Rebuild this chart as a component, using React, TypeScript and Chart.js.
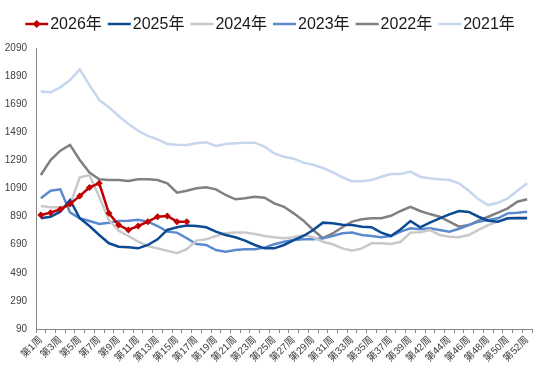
import React, { useEffect, useRef } from "react";
import { Chart, registerables } from "chart.js";

Chart.register(...registerables);

const weekNumbers = [
  1, 2, 3, 4, 5, 6, 7, 8, 9, 10, 11, 12, 13, 14, 15, 16, 17, 18, 19, 20,
  21, 22, 23, 24, 25, 26, 27, 28, 29, 30, 31, 32, 33, 34, 35, 36, 37, 38, 39, 40,
  42, 43, 44, 45, 46, 47, 48, 49, 50, 51, 52,
];
const categories = weekNumbers.map((w) => `第${w}周`);

const yTicksMin = 90;
const yTicksMax = 2090;
const yTickStep = 200;

const series2026 = [901, 918, 942, 980, 1037, 1098, 1127, 913, 830, 795, 823, 854, 889, 894, 854, 854];
const series2025 = [878, 889, 925, 1008, 878, 823, 759, 700, 676, 671, 664, 688, 728, 795, 814, 827, 823, 814, 783, 759, 743, 719, 688, 664, 664, 688, 723, 752, 795, 847, 842, 832, 830, 818, 814, 776, 752, 800, 859, 814, 847, 878, 906, 930, 923, 889, 861, 854, 878, 878, 878];
const series2024 = [965, 956, 956, 972, 1170, 1184, 1031, 866, 790, 752, 711, 681, 664, 647, 629, 658, 719, 728, 752, 771, 776, 776, 766, 752, 743, 736, 743, 759, 743, 711, 693, 664, 647, 664, 700, 700, 695, 711, 776, 778, 795, 759, 747, 743, 759, 795, 830, 854, 878, 885, 885];
const series2023 = [1020, 1074, 1084, 920, 878, 859, 837, 847, 859, 861, 868, 854, 823, 783, 776, 736, 695, 688, 652, 640, 652, 657, 657, 669, 693, 711, 723, 728, 728, 736, 752, 771, 776, 759, 752, 743, 752, 783, 807, 800, 807, 795, 783, 803, 830, 854, 866, 878, 913, 918, 925];
const series2022 = [1186, 1293, 1359, 1400, 1293, 1203, 1155, 1150, 1150, 1143, 1155, 1155, 1150, 1127, 1060, 1074, 1091, 1098, 1084, 1044, 1013, 1020, 1031, 1024, 984, 960, 913, 861, 795, 736, 770, 814, 854, 871, 878, 878, 896, 930, 960, 930, 908, 889, 854, 818, 830, 861, 889, 918, 949, 996, 1013];
const series2021 = [1780, 1775, 1810, 1862, 1938, 1826, 1720, 1668, 1606, 1549, 1501, 1464, 1440, 1407, 1402, 1400, 1412, 1419, 1393, 1407, 1412, 1416, 1416, 1388, 1340, 1316, 1302, 1274, 1259, 1236, 1207, 1170, 1141, 1141, 1150, 1174, 1193, 1193, 1210, 1174, 1162, 1155, 1150, 1127, 1074, 1013, 972, 989, 1020, 1074, 1127];

const seriesNames = ["2026年", "2025年", "2024年", "2023年", "2022年", "2021年"];
const seriesColors = ["#C00000", "#0D4A94", "#C9C9C9", "#5A8BCF", "#808080", "#C6D6EC"];
const seriesData = [series2026, series2025, series2024, series2023, series2022, series2021];

const FONT = '"Liberation Sans", "Noto Sans CJK SC", sans-serif';

const legendPlugin = {
  id: "customLegend",
  afterDraw(chart: any) {
    const ctx = chart.ctx as CanvasRenderingContext2D;
    ctx.save();
    ctx.font = `16px ${FONT}`;
    const lineLen = 23;
    const gapText = 2;
    const gapItem = 6;
    const widths = seriesNames.map((n) => ctx.measureText(n).width);
    const total = widths.reduce((a, w) => a + lineLen + gapText + w, 0) + gapItem * (seriesNames.length - 1);
    let x = (chart.width - total) / 2;
    const y = 24;
    seriesNames.forEach((name, i) => {
      ctx.strokeStyle = seriesColors[i];
      ctx.lineWidth = 2.5;
      ctx.beginPath();
      ctx.moveTo(x, y);
      ctx.lineTo(x + lineLen, y);
      ctx.stroke();
      if (i === 0) {
        const cx = x + lineLen / 2;
        ctx.fillStyle = seriesColors[i];
        ctx.beginPath();
        ctx.moveTo(cx, y - 4);
        ctx.lineTo(cx + 4, y);
        ctx.lineTo(cx, y + 4);
        ctx.lineTo(cx - 4, y);
        ctx.closePath();
        ctx.fill();
      }
      ctx.fillStyle = "#1a1a1a";
      ctx.textBaseline = "middle";
      ctx.textAlign = "left";
      ctx.fillText(name, x + lineLen + gapText, y + 1);
      x += lineLen + gapText + widths[i] + gapItem;
    });
    ctx.restore();
  },
};

export default function App() {
  const canvasRef = useRef<HTMLCanvasElement | null>(null);

  useEffect(() => {
    if (!canvasRef.current) return;
    const datasets = seriesData.map((data, i) => ({
      label: seriesNames[i],
      data,
      borderColor: seriesColors[i],
      backgroundColor: seriesColors[i],
      borderWidth: 2.5,
      pointRadius: i === 0 ? 3.5 : 0,
      pointStyle: "rectRot" as const,
      pointBackgroundColor: seriesColors[i],
      pointBorderColor: seriesColors[i],
      pointBorderWidth: 0,
      tension: 0,
      fill: false,
    }));
    const chart = new Chart(canvasRef.current, {
      type: "line",
      data: { labels: categories, datasets },
      options: {
        animation: false,
        responsive: false,
        devicePixelRatio: 1,
        layout: { padding: { top: 48, right: 8, left: 0, bottom: 0 } },
        plugins: { legend: { display: false }, tooltip: { enabled: false } },
        scales: {
          x: {
            type: "category",
            offset: true,
            grid: {
              display: true,
              drawOnChartArea: false,
              drawTicks: true,
              tickLength: 4,
              offset: true,
              color: "#868686",
            },
            border: { display: true, color: "#868686", width: 1 },
            ticks: {
              autoSkip: false,
              maxRotation: 45,
              minRotation: 45,
              padding: 1,
              color: "#404040",
              font: { size: 10, family: FONT },
              callback: (_v: any, i: number) => (i % 2 === 0 ? categories[i] : ""),
            },
            afterFit: (scale: any) => {
              scale.height = 43;
            },
          },
          y: {
            min: yTicksMin,
            max: yTicksMax,
            grid: { display: false, drawTicks: false },
            border: { display: true, color: "#868686", width: 1 },
            ticks: {
              stepSize: yTickStep,
              padding: 9,
              color: "#404040",
              font: { size: 10, family: FONT },
              callback: (v: any) => String(v),
            },
            afterFit: (scale: any) => {
              scale.width = 36;
            },
          },
        },
      },
      plugins: [legendPlugin],
    });
    return () => chart.destroy();
  }, []);

  return (
    <div style={{ position: "fixed", left: 0, top: 0, width: 540, height: 372, background: "#fff" }}>
      <canvas ref={canvasRef} width={540} height={372} style={{ width: 540, height: 372, display: "block" }} />
    </div>
  );
}
